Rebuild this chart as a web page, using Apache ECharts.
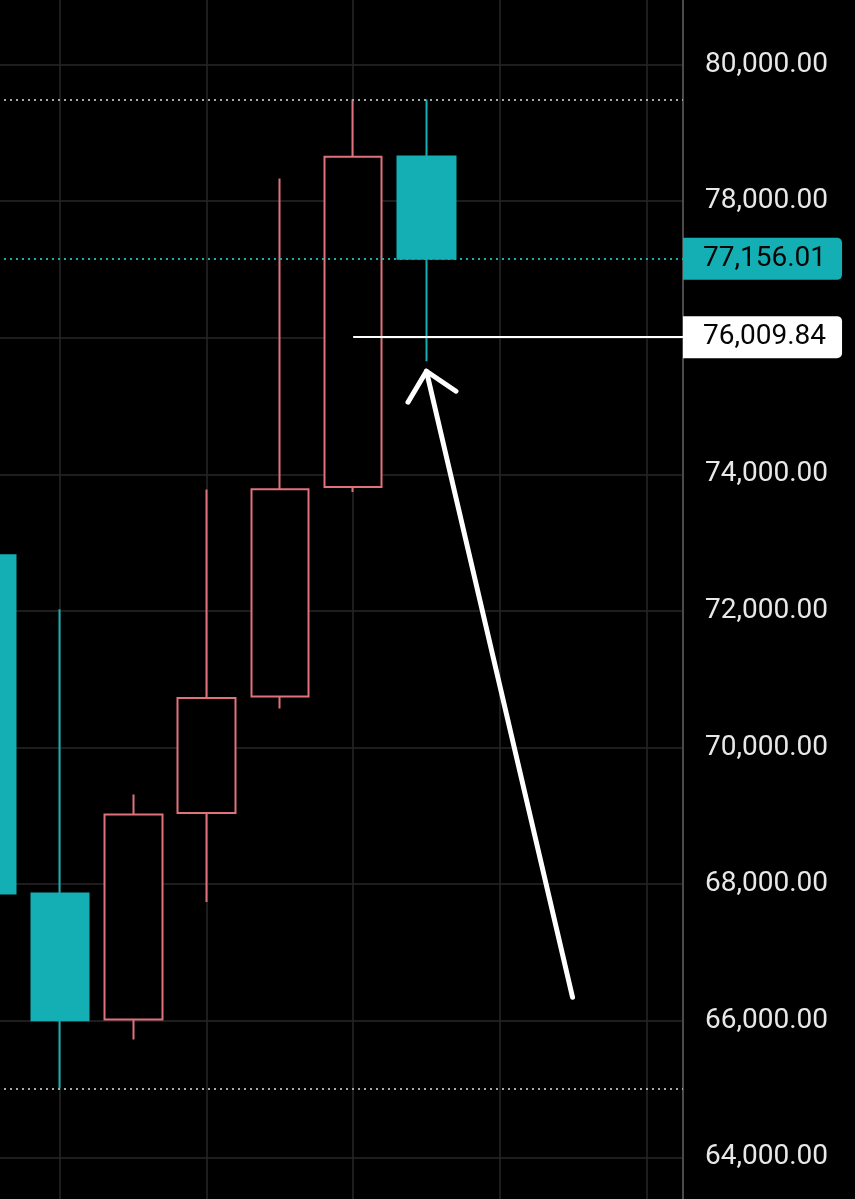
<!DOCTYPE html>
<html>
<head>
<meta charset="utf-8">
<script src="https://cdn.jsdelivr.net/npm/echarts@6/dist/echarts.min.js"></script>
<style>
html,body{margin:0;padding:0;background:#000;}
#c{width:855px;height:1199px;}
</style>
</head>
<body>
<div id="c"></div>
<script>
// ---- data ----
const categories = ['1', '2', '3', '4', '5', '6', '7', '8', '9', '10'];
const opens  = [72817, 67864, 66020, 69044, 70748, 73817, 78654];
const closes = [67864, 66009, 69020, 70728, 73783, 78650, 77156.01];
const lows   = [67864, 65009, 65726, 67741, 70572, 73744, 75657];
const highs  = [72817, 72026, 69313, 73779, 78332, 79489, 79489];
const yMin = 62000, yMax = 82000, yStep = 2000;
const lastPrice = 77156.01;
const markedLevel = 76009.84;
const markedFrom = 5;
const gridColumns = [1, 3, 5, 7, 9];
const arrowShaft = [[7.993, 66345], [6.0, 75511]];
const arrowHead = [[5.748, 75057], [6.0, 75511], [6.403, 75218]];

// ---- chart ----
const UP = '#e0727b';
const DOWN = '#14afb4';
const fmt = v => Number(v).toLocaleString('en-US', {minimumFractionDigits: 2, maximumFractionDigits: 2});
const candleData = opens.map((o, i) => [o, closes[i], lows[i], highs[i]]);
const chart = echarts.init(document.getElementById('c'), null, {renderer: 'canvas'});

const tagLabel = (bg, value) => ({
  show: true, position: 'end', distance: 0,
  formatter: () => fmt(value),
  backgroundColor: bg, color: '#050505',
  fontFamily: 'Roboto', fontSize: 28, lineHeight: 30,
  padding: [6, 16, 6, 20], borderRadius: [0, 5, 5, 0]
});

chart.setOption({
  backgroundColor: '#000',
  animation: false,
  grid: {left: -50, right: 172, top: -72, bottom: -95, containLabel: false, outerBoundsMode: 'none'},
  xAxis: [
    {type: 'category', data: categories, show: false, boundaryGap: true},
    {type: 'value', min: -0.5, max: categories.length - 0.5, show: false}
  ],
  yAxis: {
    type: 'value', position: 'right', min: yMin, max: yMax, interval: yStep,
    axisLine: {show: true, onZero: false, lineStyle: {color: '#4a4a4a', width: 2}},
    axisTick: {show: false},
    splitLine: {show: true, lineStyle: {color: '#272727', width: 1.5}},
    axisLabel: {color: '#e8e8e8', fontFamily: 'Roboto', fontSize: 28, margin: 22,
      formatter: fmt, padding: [0, 0, 6, 0]}
  },
  series: [
    {
      type: 'line', name: 'columns', xAxisIndex: 0, data: [], z: 1,
      markLine: {
        silent: true, z: 1, symbol: ['none', 'none'], label: {show: false},
        lineStyle: {color: '#272727', width: 1.5, type: 'solid'},
        data: gridColumns.map(i => ({xAxis: categories[i]}))
      }
    },
    {
      type: 'candlestick', name: 'price', xAxisIndex: 0, data: candleData, barWidth: 58, z: 2,
      itemStyle: {color: '#000', color0: DOWN, borderColor: UP, borderColor0: DOWN, borderWidth: 2},
      markLine: {
        silent: true, z: 3, symbol: ['none', 'none'],
        data: [
          {yAxis: Math.max(...highs), lineStyle: {color: '#a8a8a8', type: [2, 4], width: 2}, label: {show: false}},
          {yAxis: Math.min(...lows), lineStyle: {color: '#a8a8a8', type: [2, 4], width: 2}, label: {show: false}},
          {yAxis: lastPrice, lineStyle: {color: DOWN, type: [2, 4], width: 2}, label: tagLabel(DOWN, lastPrice)}
        ]
      }
    },
    {
      type: 'line', name: 'level', xAxisIndex: 1, data: [], z: 4,
      markLine: {
        silent: true, z: 4, symbol: ['none', 'none'],
        lineStyle: {color: '#ffffff', type: 'solid', width: 2},
        label: tagLabel('#ffffff', markedLevel),
        data: [[{coord: [markedFrom, markedLevel]}, {coord: [categories.length - 0.5, markedLevel]}]]
      }
    },
    {
      type: 'line', name: 'arrowShaft', xAxisIndex: 1, data: arrowShaft, z: 5,
      symbol: 'none', lineStyle: {color: '#ffffff', width: 5, cap: 'round'}
    },
    {
      type: 'line', name: 'arrowHead', xAxisIndex: 1, data: arrowHead, z: 5,
      symbol: 'none', lineStyle: {color: '#ffffff', width: 5, cap: 'round', join: 'round'}
    }
  ]
});
</script>
</body>
</html>
